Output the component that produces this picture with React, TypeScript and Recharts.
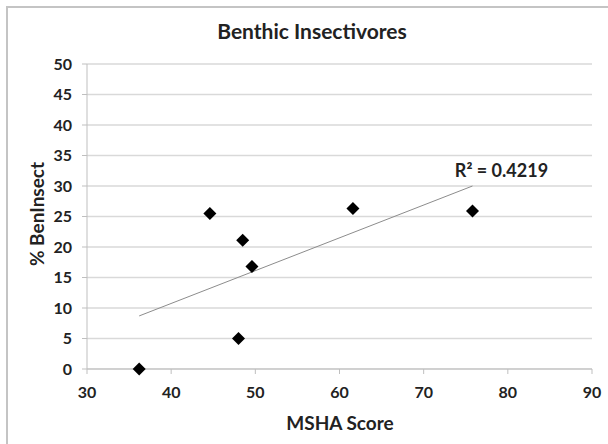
import React from "react"
import {
  ScatterChart,
  Scatter,
  XAxis,
  YAxis,
  CartesianGrid,
  ReferenceDot,
} from "recharts"

// MSHA score vs % benthic insectivores
const mshaScore = [36.2, 44.6, 48.0, 48.5, 49.6, 61.6, 75.8]
const benInsect = [0, 25.5, 5.0, 21.1, 16.8, 26.3, 25.9]

// linear trendline end points (as drawn)
const trendX = [36.2, 75.8]
const trendY = [8.7, 30.0]

const xTicks = [30, 40, 50, 60, 70, 80, 90]
const yTicks = [0, 5, 10, 15, 20, 25, 30, 35, 40, 45, 50]

const rSquared = "R² = 0.4219"

const points = mshaScore.map((x, i) => ({ x, y: benInsect[i] }))
const trend = trendX.map((x, i) => ({ x, y: trendY[i] }))

const FONT = "Lato, 'Open Sans', sans-serif"
const TEXT = "#222"

const Diamond = (props: any) => {
  const { cx, cy } = props
  const r = 6.5
  return (
    <polygon
      points={`${cx},${cy - r} ${cx + r},${cy} ${cx},${cy + r} ${cx - r},${cy}`}
      fill="#000"
    />
  )
}

const NoDot = () => <g />

export default function App() {
  return (
    <div style={{ position: "absolute", left: 0, top: 0, width: 608, height: 444, background: "#fff", overflow: "hidden" }}>
      <div
        style={{
          position: "absolute",
          left: 6,
          top: 6,
          right: 0,
          bottom: 0,
          borderTop: "2px solid #c4c4c4",
          borderLeft: "2px solid #c4c4c4",
        }}
      />
      <div
        style={{
          position: "absolute",
          left: 312,
          top: 30,
          transform: "translate(-50%, -50%)",
          fontFamily: FONT,
          fontWeight: 700,
          fontSize: 21,
          color: TEXT,
          whiteSpace: "nowrap",
        }}
      >
        Benthic Insectivores
      </div>
      <div
        style={{
          position: "absolute",
          left: 36,
          top: 214,
          transform: "translate(-50%, -50%) rotate(-90deg)",
          fontFamily: FONT,
          fontWeight: 700,
          fontSize: 19,
          color: TEXT,
          whiteSpace: "nowrap",
        }}
      >
        % BenInsect
      </div>
      <div
        style={{
          position: "absolute",
          left: 340,
          top: 422,
          transform: "translate(-50%, -50%)",
          fontFamily: FONT,
          fontWeight: 700,
          fontSize: 19,
          color: TEXT,
          whiteSpace: "nowrap",
        }}
      >
        MSHA Score
      </div>
      <div style={{ position: "absolute", left: 0, top: 0 }}>
        <ScatterChart
          width={608}
          height={444}
          margin={{ top: 64, right: 16, bottom: 45, left: 47 }}
        >
          <CartesianGrid horizontal vertical={false} stroke="#d9d9d9" strokeWidth={1.5} />
          <XAxis
            type="number"
            dataKey="x"
            domain={[30, 90]}
            ticks={xTicks}
            height={30}
            tickSize={5}
            tickMargin={13}
            stroke="#bfbfbf"
            tick={{ fill: TEXT, fontSize: 16, fontWeight: 700, fontFamily: FONT }}
          />
          <YAxis
            type="number"
            dataKey="y"
            domain={[0, 50]}
            ticks={yTicks}
            width={40}
            tickSize={5}
            tickMargin={10}
            stroke="#bfbfbf"
            tick={{ fill: TEXT, fontSize: 16, fontWeight: 700, fontFamily: FONT }}
          />
          <Scatter
            data={trend}
            line={{ stroke: "#8c8c8c", strokeWidth: 1 }}
            shape={NoDot}
            isAnimationActive={false}
          />
          <Scatter data={points} fill="#000" shape={Diamond} isAnimationActive={false} />
          <ReferenceDot
            x={trendX[1]}
            y={trendY[1]}
            r={0}
            stroke="none"
            fill="none"
            label={{
              content: (p: any) => {
                const vb = p.viewBox || {}
                const cx = (vb.x ?? 0) + (vb.width ?? 0) / 2
                const cy = (vb.y ?? 0) + (vb.height ?? 0) / 2
                return (
                  <text
                    x={cx + 29}
                    y={cy - 9.5}
                    textAnchor="middle"
                    fill={TEXT}
                    fontFamily={FONT}
                    fontWeight={700}
                    fontSize={18}
                  >
                    {rSquared}
                  </text>
                )
              },
            }}
          />
        </ScatterChart>
      </div>
    </div>
  )
}
